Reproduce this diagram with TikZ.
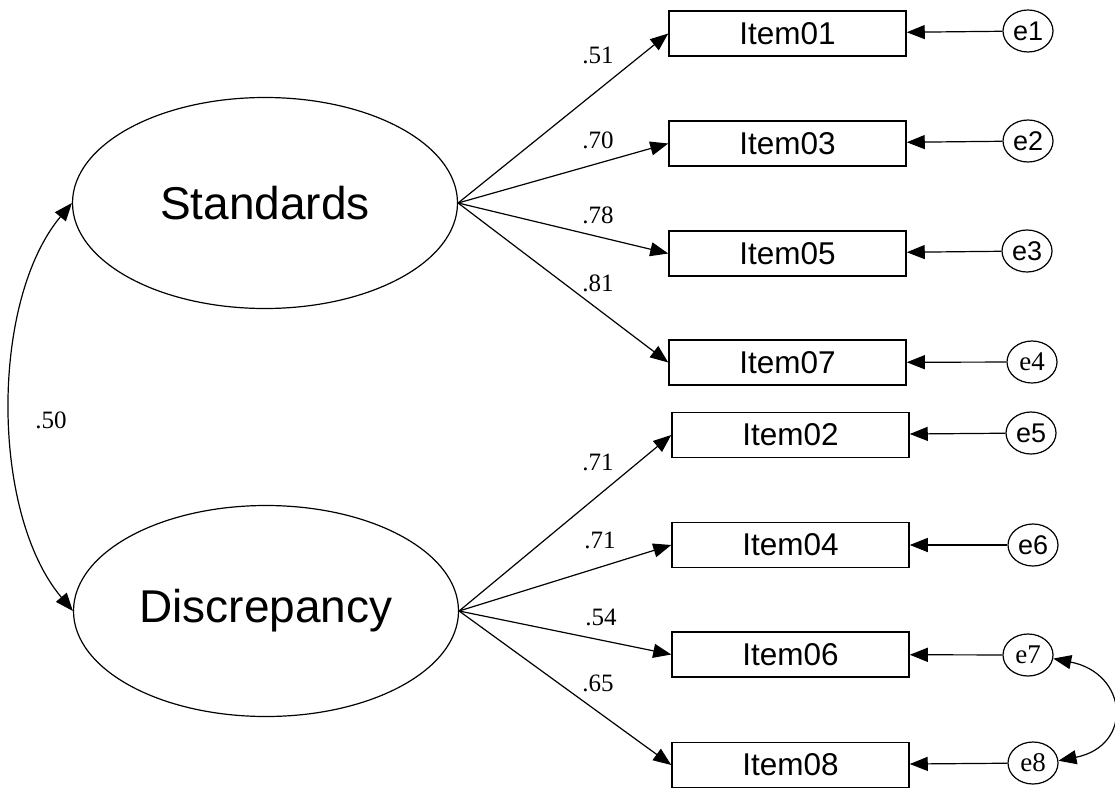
\documentclass[tikz,border=0pt]{standalone}
\usepackage{fontspec}
\setmainfont{Liberation Sans}
\newfontfamily\coeffont{Liberation Serif}
\usetikzlibrary{shapes.geometric,arrows.meta}

\begin{document}
\begin{tikzpicture}[x=1pt, y=-1pt, line width=1.2pt,
	latent/.style={draw, ellipse, inner sep=0pt, minimum width=385pt, minimum height=211pt, font=\fontsize{46}{50}\selectfont},
	item/.style={draw, rectangle, line width=1.5pt, inner sep=0pt, minimum width=237pt, minimum height=45pt, font=\fontsize{31.5}{34}\selectfont},
	err/.style={draw, ellipse, inner sep=0pt, minimum width=50pt, minimum height=42pt, font=\fontsize{27}{28}\selectfont},
	errserif/.style={err, font=\coeffont\fontsize{27}{28}\selectfont},
	coef/.style={font=\coeffont\fontsize{25}{28}\selectfont},
	load/.style={-{Triangle[length=18pt,width=14pt]}},
	covar/.style={{Triangle[length=18pt,width=14pt]}-{Triangle[length=18pt,width=14pt]}}]
\useasboundingbox (0,0) rectangle (1115,789);
\node[latent] (std) at (265,203) {Standards};
\node[latent] (dis) at (266,611) {Discrepancy};
\foreach \n/\t/\x/\y in {i01/Item01/787.5/33.5, i03/Item03/787.5/143.5, i05/Item05/787.5/253.5, i07/Item07/787.5/362.5,
	i02/Item02/790.5/435, i04/Item04/790.5/545, i06/Item06/790.5/654.5, i08/Item08/790.5/765}
	\node[item] (\n) at (\x,\y) {\t};
\foreach \n/\s/\x/\y in {e1/err/1028/31, e2/err/1028/141, e3/err/1027/251, e4/errserif/1032/362,
	e5/err/1031/433, e6/err/1033/545, e7/errserif/1028/655, e8/errserif/1033/763}
	\node[\s] (\n) at (\x,\y) {\n};
\foreach \i in {01,03,05,07} \draw[load] (std.east) -- (i\i.west);
\foreach \i in {02,04,06,08} \draw[load] (dis.east) -- (i\i.west);
\foreach \e/\i in {e1/i01, e2/i03, e3/i05, e4/i07, e5/i02, e6/i04, e7/i06, e8/i08} \draw[load] (\e) -- (\i);
\foreach \n/\t/\x/\y in {c01/.51/598/55, c03/.70/598/140, c05/.78/598/215, c07/.81/598/283,
	c02/.71/598/462, c04/.71/600/540, c06/.54/601/617, c08/.65/598/683, c00/.50/51/420}
	\node[coef] (\n) at (\x,\y) {\t};
\draw[covar] (std.west) to[bend right=40, looseness=.8] (dis.west);
\draw[covar] (e7.-8) .. controls +(75,15) and +(75,-15) .. (e8.5);
\end{tikzpicture}
\end{document}
